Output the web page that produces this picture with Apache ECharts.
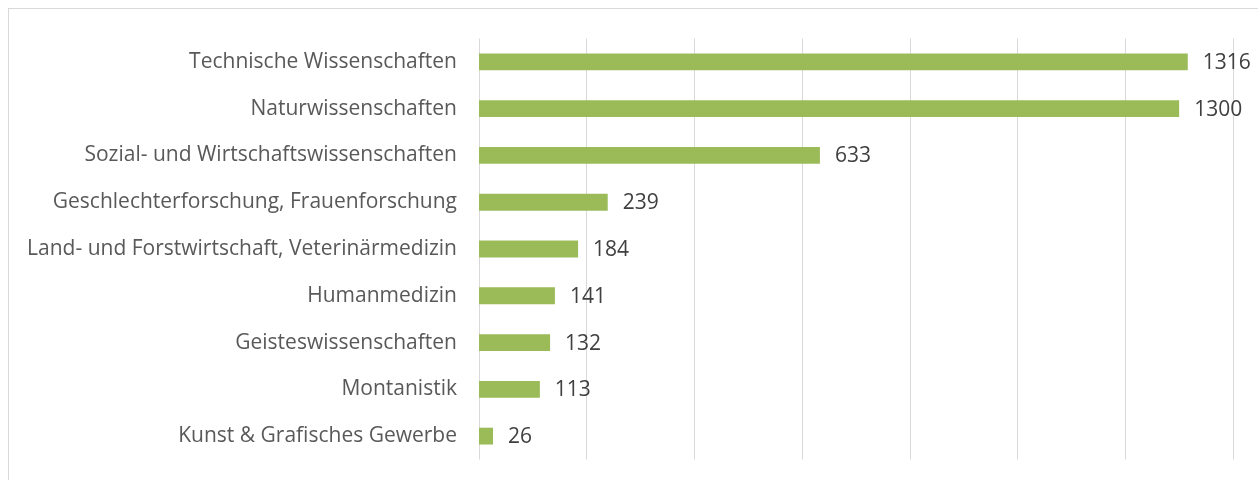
<!DOCTYPE html>
<html>
<head>
<meta charset="utf-8">
<script src="https://cdn.jsdelivr.net/npm/echarts@6/dist/echarts.min.js"></script>
<style>
html,body{margin:0;padding:0;background:#fff;}
#chart{width:1258px;height:480px;position:absolute;left:0;top:0;}
#frame{position:absolute;left:8px;top:8px;width:1300px;height:600px;border:1px solid #d9d9d9;box-sizing:border-box;pointer-events:none;}
</style>
</head>
<body>
<div id="chart"></div>
<div id="frame"></div>
<script>
const categories = [
  "Technische Wissenschaften",
  "Naturwissenschaften",
  "Sozial- und Wirtschaftswissenschaften",
  "Geschlechterforschung, Frauenforschung",
  "Land- und Forstwirtschaft, Veterinärmedizin",
  "Humanmedizin",
  "Geisteswissenschaften",
  "Montanistik",
  "Kunst & Grafisches Gewerbe"
];
const values = [1316, 1300, 633, 239, 184, 141, 132, 113, 26];

const chart = echarts.init(document.getElementById('chart'));
chart.setOption({
  animation: false,
  grid: {left: 479, right: 25, top: 38.5, bottom: 20.5, containLabel: false},
  xAxis: {
    type: 'value', min: 0, max: 1400, interval: 200,
    axisLabel: {show: false}, axisLine: {show: false}, axisTick: {show: false},
    splitLine: {show: true, lineStyle: {color: '#d9d9d9', width: 1}}
  },
  yAxis: {
    type: 'category', data: categories, inverse: true,
    axisLine: {show: false}, axisTick: {show: false},
    axisLabel: {fontFamily: 'Open Sans', fontSize: 21, color: '#595959', margin: 22, padding: [4, 0, 0, 0]}
  },
  series: [{
    type: 'bar', data: values, barWidth: '36%',
    itemStyle: {color: '#9bbb59'},
    label: {show: true, position: 'right', distance: 15, fontFamily: 'Open Sans', fontSize: 21, color: '#404040', offset: [0, 1]}
  }]
});
</script>
</body>
</html>
